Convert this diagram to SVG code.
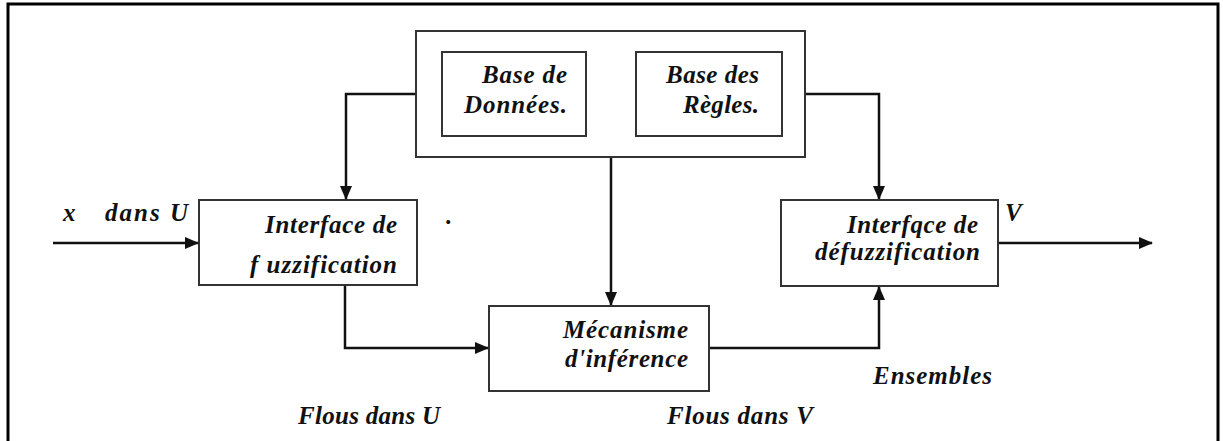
<svg xmlns="http://www.w3.org/2000/svg" width="1223" height="441" viewBox="0 0 1223 441">
<style>
.box{fill:#fff;stroke:#333;stroke-width:2}
.ln{fill:none;stroke:#111;stroke-width:2.5}
.t{font-family:"Liberation Serif","Times New Roman",serif;font-weight:bold;font-style:italic;font-size:25px;fill:#111}
</style>
<defs>
<marker id="ah" markerUnits="userSpaceOnUse" markerWidth="14" markerHeight="12" refX="13" refY="6" orient="auto">
<path d="M0,0 L14,6 L0,12 Z" fill="#111"/>
</marker>
</defs>
<rect x="0" y="0" width="1223" height="441" fill="#fff"/>
<path d="M8,445 V4 H1218 V445" fill="none" stroke="#000" stroke-width="3"/>
<g id="connectors">
<path class="ln" d="M416,94 H346 V199" marker-end="url(#ah)"/>
<path class="ln" d="M805,94 H879 V199" marker-end="url(#ah)"/>
<path class="ln" d="M611,157 V305" marker-end="url(#ah)"/>
<path class="ln" d="M53,243 H198" marker-end="url(#ah)"/>
<path class="ln" d="M345,285 V348 H488" marker-end="url(#ah)"/>
<path class="ln" d="M709,348 H879 V287" marker-end="url(#ah)"/>
<path class="ln" d="M998,243 H1152" marker-end="url(#ah)"/>
</g>
<g id="base">
<rect class="box" x="416" y="31" width="389" height="126"/>
</g>
<g id="base-donnees">
<rect class="box" x="442" y="52" width="144" height="84"/>
<text class="t" x="482" y="83" textLength="85" lengthAdjust="spacing">Base de</text>
<text class="t" x="464" y="113" textLength="103" lengthAdjust="spacing">Données.</text>
</g>
<g id="base-regles">
<rect class="box" x="636" y="52" width="146" height="84"/>
<text class="t" x="666" y="83" textLength="93" lengthAdjust="spacing">Base des</text>
<text class="t" x="683" y="113" textLength="76" lengthAdjust="spacing">Règles.</text>
</g>
<g id="fuzzification">
<rect class="box" x="199" y="200" width="218" height="85"/>
<text class="t" x="265" y="233" textLength="132" lengthAdjust="spacing">Interface de</text>
<text class="t" x="250" y="273" textLength="147" lengthAdjust="spacing">f uzzification</text>
</g>
<g id="inference">
<rect class="box" x="489" y="306" width="220" height="85"/>
<text class="t" x="563" y="338" textLength="125" lengthAdjust="spacing">Mécanisme</text>
<text class="t" x="565" y="367" textLength="123" lengthAdjust="spacing">d'inférence</text>
</g>
<g id="defuzzification">
<rect class="box" x="781" y="200" width="217" height="86"/>
<text class="t" x="847" y="233" textLength="131" lengthAdjust="spacing">Interfqce de</text>
<text class="t" x="815" y="260" textLength="165" lengthAdjust="spacing">défuzzification</text>
</g>
<g id="labels">
<text class="t" x="63" y="221">x</text>
<text class="t" x="105" y="221" textLength="83" lengthAdjust="spacing">dans U</text>
<text class="t" x="1005" y="221">V</text>
<text class="t" x="446" y="224">.</text>
<text class="t" x="873" y="384" textLength="119" lengthAdjust="spacing">Ensembles</text>
<text class="t" x="298" y="424" textLength="142" lengthAdjust="spacing">Flous dans U</text>
<text class="t" x="667" y="424" textLength="146" lengthAdjust="spacing">Flous dans V</text>
</g>
</svg>
